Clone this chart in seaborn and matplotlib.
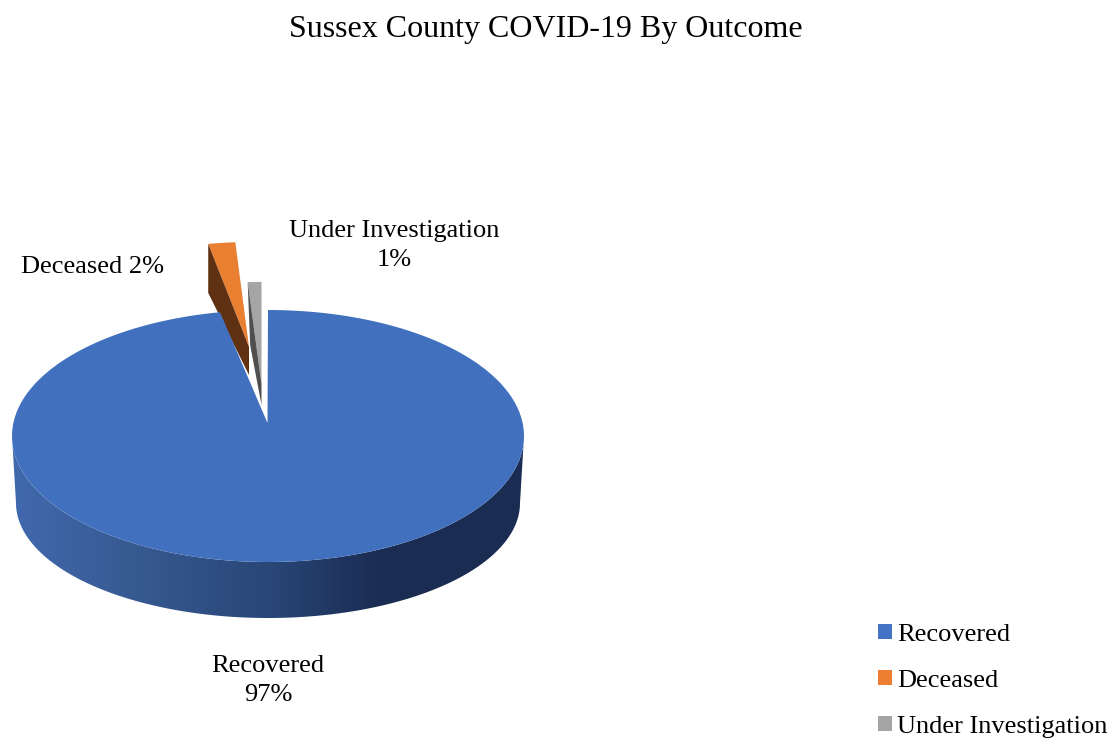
import numpy as np
import seaborn as sns
import matplotlib
matplotlib.use('Agg')
import matplotlib.pyplot as plt
from matplotlib.patches import Polygon, Patch
from matplotlib.colors import LinearSegmentedColormap

categories = ['Recovered', 'Deceased', 'Under Investigation']
values = [97, 2, 1]
title = 'Sussex County COVID-19 By Outcome'

sns.set_theme(style='white')
plt.rcParams['font.family'] = ['Liberation Serif', 'DejaVu Serif']
colors = sns.color_palette(['#4472c4', '#ed7d31', '#a5a5a5'])
face_colors = ['#4170bf', '#e97f30', '#a5a5a5']
wall_colors = ['#1a2c52', '#5f3112', '#4f4f4f']

fig = plt.figure(figsize=(11.12, 7.38), dpi=100)
ax = fig.add_axes([0, 0, 1, 1])
ax.set_xlim(0, 1112)
ax.set_ylim(738, 0)
ax.axis('off')

# pie shape, in pixels
cx, cy, rx, ry = 268, 436, 256, 126
bot_cy, bot_rx, bot_ry = 503, 252, 115
# apex of the top face for each slice, radius scales, wall depth at rim and apex
apex = [(267.5, 423), (249, 347), (261.5, 384)]
scale_x = [1.0, 0.85, 0.86]
scale_y = [1.0, 0.833, 0.81]
rim_depth = [0, 49, 63]
rim_shift = [0, 0, 2.5]
apex_depth = [0, 28, 21]


def arc(center_x, center_y, radius_x, radius_y, t0, t1):
    # angles run clockwise from 12 o'clock, like the pie
    t = np.radians(np.linspace(t0, t1, 200))
    return np.column_stack([center_x + radius_x*np.sin(t), center_y - radius_y*np.cos(t)])


edges = np.cumsum([0] + values) / sum(values) * 360

# front wall of the blue slice, shaded left to right
top_front = arc(cx, cy, rx, ry, 90, 270)
bot_front = arc(cx, bot_cy, bot_rx, bot_ry, 270, 90)
wall = Polygon(np.vstack([top_front, bot_front]), closed=True, fc='none', ec='none')
ax.add_patch(wall)
shade = LinearSegmentedColormap.from_list('shade', [(0, '#4169ae'), (0.25, '#36598f'), (0.5, '#294778'),
                                                    (0.72, '#1a2c52'), (1, '#1a2c52')])
im = ax.imshow(np.linspace(0, 1, 256)[None, :], cmap=shade, extent=(12, 524, 618, 436), aspect='auto', zorder=1)
im.set_clip_path(wall)
ax.set_xlim(0, 1112)
ax.set_ylim(738, 0)

# pulled out slices, then the big one on top
for i in [1, 2]:
    ax_, ay = apex[i]
    rim = arc(ax_, ay, rx*scale_x[i], ry*scale_y[i], edges[i]-360, edges[i+1]-360)
    side = [rim[0], rim[0] + [rim_shift[i], rim_depth[i]], (ax_, ay + apex_depth[i]), (ax_, ay)]
    ax.add_patch(Polygon(np.vstack([[(ax_, ay)], rim]), closed=True, fc=face_colors[i], ec='none', zorder=2+i))
    ax.add_patch(Polygon(side, closed=True, fc=wall_colors[i], ec='none', zorder=2+i))

rim = arc(cx, cy, rx, ry, edges[0], edges[1])
ax.add_patch(Polygon(np.vstack([[apex[0]], rim]), closed=True, fc=face_colors[0], ec='none', zorder=5))

fs = 19
ax.text(546, 30, title, ha='center', va='center', fontsize=23, color='black')
ax.text(268, 680.5, f'{categories[0]}\n{values[0]}%', ha='center', va='center', fontsize=fs, color='black', linespacing=1.45)
ax.text(21, 267, f'{categories[1]} {values[1]}%', ha='left', va='center', fontsize=fs, color='black')
ax.text(394, 245.5, f'{categories[2]}\n{values[2]}%', ha='center', va='center', fontsize=fs, color='black', linespacing=1.45)

handles = [Patch(fc=c, ec='none', label=n) for c, n in zip(colors, categories)]
ax.legend(handles=handles, loc='upper left', bbox_to_anchor=(878, 623.5), bbox_transform=ax.transData,
          frameon=False, fontsize=fs, labelcolor='black', borderpad=0, borderaxespad=0,
          handlelength=0.53, handleheight=0.53, handletextpad=0.2, labelspacing=0.91)

fig.savefig('out.png', dpi=100)
